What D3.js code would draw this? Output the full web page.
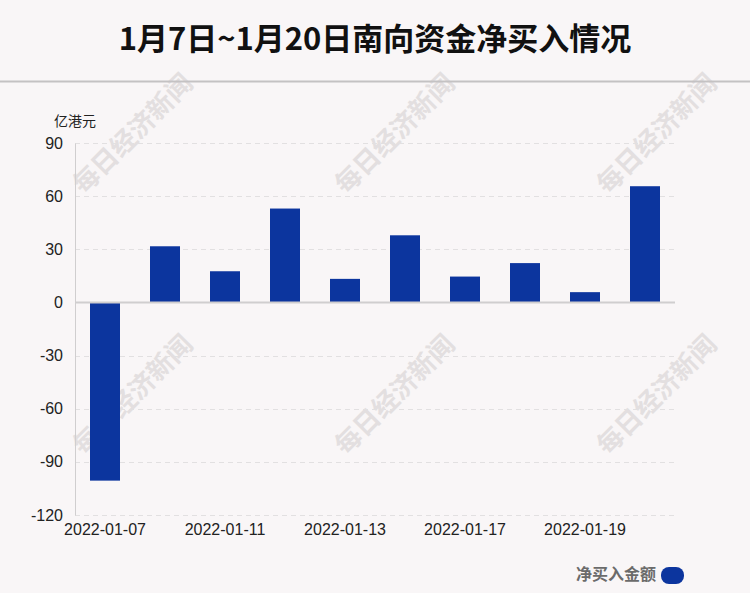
<!DOCTYPE html>
<html><head><meta charset="utf-8">
<script src="https://cdn.jsdelivr.net/npm/d3@7"></script>
<style>body{margin:0;background:#f9f6f7;}svg{display:block;}</style>
</head><body>
<svg id="c" width="750" height="593"></svg>
<script>
const dates = ["2022-01-07","2022-01-10","2022-01-11","2022-01-12","2022-01-13","2022-01-14","2022-01-17","2022-01-18","2022-01-19","2022-01-20"];
const netBuy = [-100.6, 31.7, 17.6, 53.0, 13.3, 37.9, 14.6, 22.2, 5.8, 65.6];
const yTicks = [90, 60, 30, 0, -30, -60, -90, -120];
const xLabelDates = ["2022-01-07","2022-01-11","2022-01-13","2022-01-17","2022-01-19"];
const title = "1月7日~1月20日南向资金净买入情况";
const unit = "亿港元";
const seriesName = "净买入金额";
const watermark = "每日经济新闻";

const svg = d3.select("#c");
const W = 750, H = 593;
const cjk = "'Noto Sans CJK SC', 'Noto Sans', sans-serif";
const lat = "'Liberation Sans', Arial, sans-serif";

svg.append("rect").attr("width", W).attr("height", H).attr("fill", "#f9f6f7");

// watermarks
const wmPos = [[131,132],[393,132],[655,132],[131,393],[393,393],[655,393]];
svg.append("g").selectAll("text").data(wmPos).join("text")
  .attr("transform", d => `translate(${d[0]},${d[1]}) rotate(-45)`)
  .attr("text-anchor", "middle").attr("dominant-baseline", "central")
  .attr("font-family", cjk).attr("font-weight", 700).attr("font-size", 26)
  .attr("fill", "#e3dfe0").text(watermark);

// title
svg.append("text").attr("x", 375).attr("y", 50).attr("text-anchor", "middle")
  .attr("font-family", cjk).attr("font-weight", 700).attr("font-size", 31)
  .attr("fill", "#111").text(title);
svg.append("line").attr("x1", 0).attr("x2", W).attr("y1", 81.5).attr("y2", 81.5)
  .attr("stroke", "#c4c2c3").attr("stroke-width", 2);

const x = d3.scaleBand().domain(dates).range([75, 675]).paddingInner(0.5).paddingOuter(0.25);
const y = d3.scaleLinear().domain([-120, 90]).range([515, 143]);

// grid
svg.append("g").selectAll("line").data(yTicks.filter(t => t !== 0)).join("line")
  .attr("x1", 75).attr("x2", 675).attr("y1", d => Math.round(y(d)) + 0.5).attr("y2", d => Math.round(y(d)) + 0.5)
  .attr("stroke", "#e2e0e1").attr("stroke-dasharray", "5,4");

// y axis
const yAxis = svg.append("g").attr("transform", "translate(75,0)")
  .call(d3.axisLeft(y).tickValues(yTicks).tickFormat(d => String(d)).tickSize(0).tickPadding(12));
yAxis.attr("font-family", lat).attr("font-size", 16);
yAxis.select(".domain").attr("stroke", "#d0cecf");
yAxis.selectAll("text").attr("fill", "#222");

svg.append("text").attr("x", 54).attr("y", 126).attr("font-family", cjk).attr("font-size", 14)
  .attr("fill", "#222").text(unit);

// bars
svg.append("g").selectAll("rect").data(netBuy).join("rect")
  .attr("x", (d, i) => x(dates[i])).attr("width", x.bandwidth())
  .attr("y", d => y(Math.max(0, d))).attr("height", d => Math.abs(y(d) - y(0)))
  .attr("fill", "#0c359e");

// zero line
svg.append("line").attr("x1", 75).attr("x2", 675).attr("y1", y(0)).attr("y2", y(0))
  .attr("stroke", "#d0cecf").attr("stroke-width", 2);

// x labels
const xAxis = svg.append("g").attr("transform", "translate(0,515)")
  .call(d3.axisBottom(x).tickValues(xLabelDates).tickSize(0).tickPadding(9));
xAxis.attr("font-family", lat).attr("font-size", 16);
xAxis.select(".domain").remove();
xAxis.selectAll("text").attr("fill", "#222");

// legend
svg.append("text").attr("x", 656).attr("y", 580).attr("text-anchor", "end")
  .attr("font-family", cjk).attr("font-weight", 700).attr("font-size", 16)
  .attr("fill", "#6b6b6b").text(seriesName);
svg.append("rect").attr("x", 661).attr("y", 567).attr("width", 23).attr("height", 17)
  .attr("rx", 8).attr("fill", "#0c359e");
</script>
</body></html>
